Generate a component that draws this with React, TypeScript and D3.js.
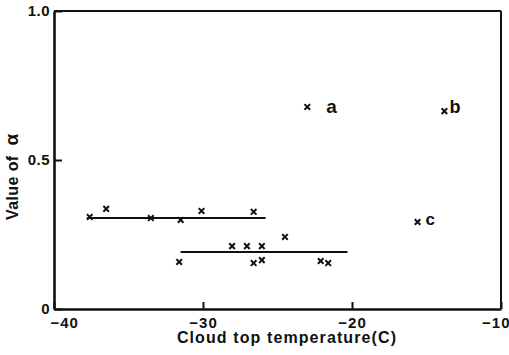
import { useEffect, useRef } from 'react';
import * as d3 from 'd3';

// Cloud top temperature (C) and value of alpha for each observation
const temps = [-37.6, -36.5, -33.5, -31.5, -30.1, -26.6, -31.6, -28.05, -27.05, -26.05, -26.6, -26.05, -24.5, -22.1, -21.6, -15.6, -23.0, -13.8];
const alphas = [0.309, 0.336, 0.305, 0.299, 0.329, 0.326, 0.158, 0.211, 0.211, 0.211, 0.154, 0.164, 0.242, 0.161, 0.154, 0.292, 0.678, 0.664];

// Horizontal mean lines: [start temp, end temp, alpha]
const meanLines: [number, number, number][] = [
    [-37.8, -25.8, 0.305],
    [-31.5, -20.3, 0.191],
];

// Labelled points
const labelNames = ['a', 'b', 'c'];
const labelTemps = [-23.0, -13.8, -15.6];
const labelAlphas = [0.678, 0.664, 0.292];

const xTicks = [-40, -30, -20, -10];
const yTicks = [0, 0.5, 1.0];
const yTickLabels = ['0', '0.5', '1.0'];

export default function App() {
    const svgRef = useRef<SVGSVGElement>(null);

    useEffect(() => {
        if (!svgRef.current) return;
        const svg = d3.select(svgRef.current);
        svg.selectAll('*').remove();

        const font = '"Liberation Sans", Arial, sans-serif';
        const left = 54, right = 501, top = 11, bottom = 309;

        const x = d3.scaleLinear().domain([-40, -10]).range([left, right]);
        const y = d3.scaleLinear().domain([0, 1]).range([bottom, top]);

        // frame (top and right thinner)
        svg.append('line').attr('x1', left).attr('x2', right).attr('y1', top).attr('y2', top)
            .attr('stroke', '#111').attr('stroke-width', 2);
        svg.append('line').attr('x1', right).attr('x2', right).attr('y1', top).attr('y2', bottom)
            .attr('stroke', '#111').attr('stroke-width', 2);

        // x axis
        const xAxis = svg.append('g')
            .attr('transform', `translate(0,${bottom})`)
            .call(d3.axisBottom(x).tickValues(xTicks).tickSizeInner(-7).tickSizeOuter(0)
                .tickPadding(8).tickFormat(d => `\u2212${Math.abs(+d)}`));
        xAxis.select('.domain').attr('stroke', '#111').attr('stroke-width', 2.6);
        xAxis.selectAll('.tick line').attr('stroke', '#111').attr('stroke-width', 2);
        xAxis.selectAll('text')
            .attr('font-family', font).attr('font-weight', 700).attr('font-size', 15)
            .attr('letter-spacing', 1).attr('fill', '#111');
        xAxis.selectAll<SVGTextElement, number>('text')
            .filter(d => d === -40).attr('text-anchor', 'start').attr('x', -4);
        xAxis.selectAll<SVGTextElement, number>('text')
            .filter(d => d === -10).attr('text-anchor', 'end').attr('x', 9);

        // y axis
        const yAxis = svg.append('g')
            .attr('transform', `translate(${left},0)`)
            .call(d3.axisLeft(y).tickValues(yTicks).tickSizeInner(-8).tickSizeOuter(0)
                .tickPadding(4).tickFormat((_, i) => yTickLabels[i]));
        yAxis.select('.domain').attr('stroke', '#111').attr('stroke-width', 2.6);
        yAxis.selectAll('.tick line').attr('stroke', '#111').attr('stroke-width', 2);
        yAxis.selectAll('text')
            .attr('font-family', font).attr('font-weight', 700).attr('font-size', 15)
            .attr('letter-spacing', 0.5).attr('fill', '#111');

        // mean lines
        svg.selectAll('.mean')
            .data(meanLines)
            .enter()
            .append('line')
            .attr('x1', d => x(d[0]))
            .attr('x2', d => x(d[1]))
            .attr('y1', d => y(d[2]))
            .attr('y2', d => y(d[2]))
            .attr('stroke', '#111')
            .attr('stroke-width', 2);

        // x markers
        const pts = temps.map((t, i) => ({ t, a: alphas[i] }));
        const s = 2.8;
        svg.selectAll('.pt')
            .data(pts)
            .enter()
            .append('path')
            .attr('d', d => {
                const px = x(d.t), py = y(d.a);
                return `M${px - s},${py - s}L${px + s},${py + s}M${px - s},${py + s}L${px + s},${py - s}`;
            })
            .attr('stroke', '#111')
            .attr('stroke-width', 2);

        // point labels
        const labelDx = [19, 5, 8];
        const labelDy = [6, 2, 3];
        const labelSize = [19, 18, 17];
        svg.selectAll('.lab')
            .data(labelNames)
            .enter()
            .append('text')
            .attr('x', (_, i) => x(labelTemps[i]) + labelDx[i])
            .attr('y', (_, i) => y(labelAlphas[i]) + labelDy[i])
            .attr('font-family', font)
            .attr('font-weight', 700)
            .attr('font-size', (_, i) => labelSize[i])
            .attr('fill', '#111')
            .text(d => d);

        // axis titles
        svg.append('text')
            .attr('x', 287)
            .attr('y', 343)
            .attr('text-anchor', 'middle')
            .attr('font-family', font)
            .attr('font-weight', 700)
            .attr('font-size', 16)
            .attr('letter-spacing', 1.1)
            .attr('fill', '#111')
            .text('Cloud top temperature(C)');

        const yt = svg.append('text')
            .attr('transform', 'translate(18,220) rotate(-90)')
            .attr('font-family', font)
            .attr('font-weight', 700)
            .attr('font-size', 16)
            .attr('letter-spacing', 0.4)
            .attr('fill', '#111');
        yt.append('tspan').text('Value of');
        yt.append('tspan').attr('dx', 10).attr('font-size', 19).text('\u03b1');
    }, []);

    return (
        <svg
            ref={svgRef}
            width={509}
            height={355}
            style={{ position: 'absolute', left: 0, top: 0, background: '#fff' }}
        />
    );
}
